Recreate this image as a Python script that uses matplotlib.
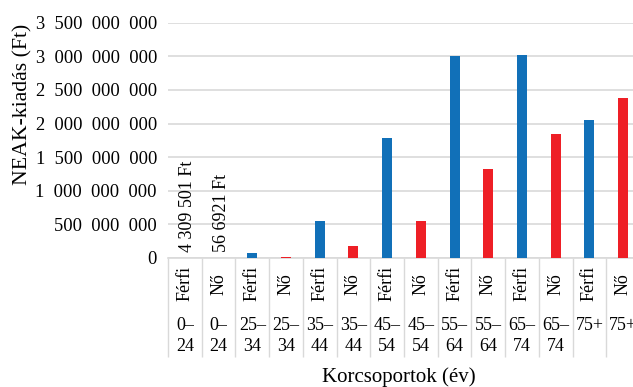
import numpy as np
import matplotlib.pyplot as plt

plt.rcParams['font.family'] = ['Liberation Serif', 'DejaVu Serif']

# NEAK spending by age group and sex
age_groups = ['0–\n24', '0–\n24', '25–\n34', '25–\n34', '35–\n44', '35–\n44', '45–\n54',
              '45–\n54', '55–\n64', '55–\n64', '65–\n74', '65–\n74', '75+', '75+']
sexes = ['Férfi', 'Nő'] * 7
spending = [4309501, 566921, 77000000, 20000000, 554000000, 177000000, 1784000000,
            554000000, 3004000000, 1318000000, 3020000000, 1844000000, 2052000000, 2375000000]
bar_labels = {0: '4 309 501 Ft', 1: '56 6921 Ft'}
y_ticks = [0, 500e6, 1000e6, 1500e6, 2000e6, 2500e6, 3000e6, 3500e6]

BLUE = '#1170b8'
RED = '#ee1f26'
GRID = '#d9d9d9'


def fmt(v):
    # thousands grouped with wide gaps
    return '{:,}'.format(int(v)).replace(',', '  ')


def main():
    fig = plt.figure(figsize=(6.33, 3.87), dpi=100)
    ax = fig.add_axes([168 / 633, 1 - 258 / 387, 472 / 633, (258 - 22.7) / 387])

    x = np.arange(len(spending))
    colors = [BLUE if s == 'Férfi' else RED for s in sexes]
    ax.bar(x, spending, width=0.3, color=colors, zorder=3)

    for i, txt in bar_labels.items():
        ax.annotate(txt, (x[i], spending[i]), xytext=(2, 4), textcoords='offset points',
                    rotation=90, ha='center', va='bottom', fontsize=13)

    ax.set_ylim(0, 3500e6)
    ax.set_xlim(-0.5, len(spending) - 0.5)
    ax.set_yticks(y_ticks)
    ax.set_yticklabels([fmt(v) for v in y_ticks], fontsize=13.3)
    ax.yaxis.grid(True, color=GRID, linewidth=1.2, zorder=0)
    ax.tick_params(axis='y', length=0, pad=8)

    # category boundaries drawn as long minor ticks
    ax.set_xticks(np.arange(-0.5, len(spending)), minor=True)
    ax.tick_params(axis='x', which='minor', length=71, width=1, color=GRID)
    ax.set_xticks(x)
    ax.set_xticklabels([])
    ax.tick_params(axis='x', which='major', length=0)

    for i in range(len(spending)):
        ax.text(x[i], -0.11, sexes[i], transform=ax.get_xaxis_transform(), rotation=90,
                ha='center', va='center', fontsize=13)
        ax.text(x[i], -0.251, age_groups[i], transform=ax.get_xaxis_transform(),
                ha='center', va='top', fontsize=13, linespacing=1.3)

    for side in ['top', 'right', 'left']:
        ax.spines[side].set_visible(False)
    ax.spines['bottom'].set_color(GRID)
    ax.spines['bottom'].set_linewidth(1.2)

    fig.text(23 / 633, 1 - 104 / 387, 'NEAK-kiadás (Ft)', rotation=90, ha='center', va='center',
             fontsize=15.7)
    fig.text(399 / 633, 1 - 377 / 387, 'Korcsoportok (év)', ha='center', va='center', fontsize=15)

    fig.savefig('out.png', dpi=100)


if __name__ == '__main__':
    main()
